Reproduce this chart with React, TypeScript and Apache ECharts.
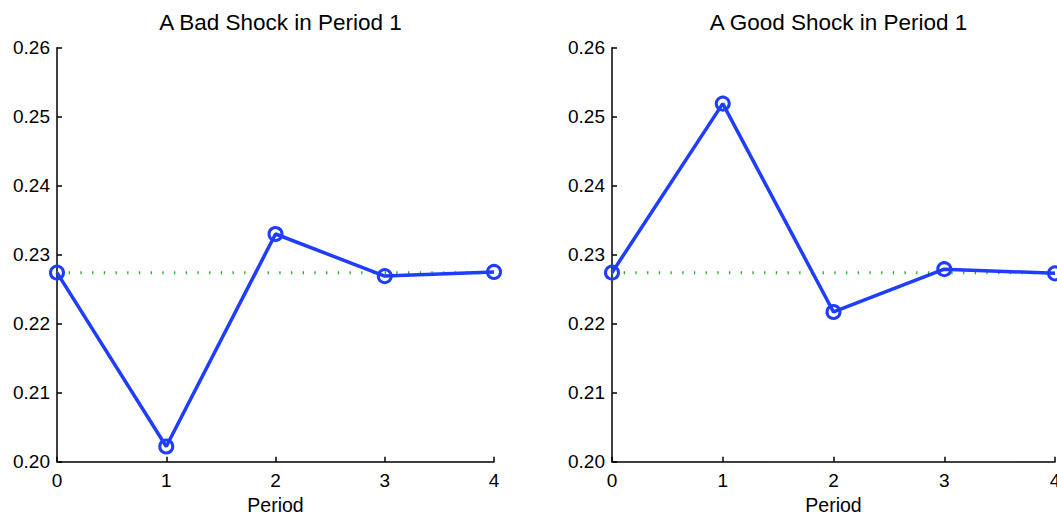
import React, { useEffect, useRef } from "react";
import * as echarts from "echarts";

const periods = [0, 1, 2, 3, 4];
const badShock = [0.2274, 0.2022, 0.2330, 0.2269, 0.2275];
const goodShock = [0.2274, 0.2519, 0.2217, 0.2279, 0.2273];
const steadyState = [0.2274, 0.2274, 0.2274, 0.2274, 0.2274];
const titles = ["A Bad Shock in Period 1", "A Good Shock in Period 1"];
const xLabel = "Period";

const FONT = "Liberation Sans, Arial, Helvetica, sans-serif";
const BLUE = "#1f3dff";
const GREEN = "#1fb01f";

export default function App() {
  const ref = useRef<HTMLDivElement>(null);
  useEffect(() => {
    document.body.style.margin = "0";
    const chart = echarts.init(ref.current!, null, { renderer: "svg" });
    const pairs = (ys: number[]) => periods.map((p, i) => [p, ys[i]]);
    const grids = [
      { left: 57, width: 437, top: 47.7, bottom: 50.3, outerBoundsMode: "none", containLabel: false },
      { left: 612, width: 443, top: 47.7, bottom: 50.3, outerBoundsMode: "none", containLabel: false },
    ];
    const axisCommon = {
      axisLine: { show: true, lineStyle: { color: "#000", width: 1.5 } },
      axisTick: { show: true, inside: true, length: 5, lineStyle: { color: "#000", width: 1.5 } },
      splitLine: { show: false },
    };
    const xAxes = grids.map((_, i) => ({
      type: "value",
      gridIndex: i,
      min: 0,
      max: 4,
      interval: 1,
      name: xLabel,
      nameLocation: "middle",
      nameGap: 28,
      nameTextStyle: { color: "#000", fontFamily: FONT, fontSize: 19.5, lineHeight: 19.5 },
      axisLabel: { color: "#000", fontFamily: FONT, fontSize: 19, margin: 9 },
      ...axisCommon,
    }));
    const yAxes = grids.map((_, i) => ({
      type: "value",
      gridIndex: i,
      min: 0.2,
      max: 0.26,
      interval: 0.01,
      axisLabel: {
        color: "#000",
        fontFamily: FONT,
        fontSize: 19,
        margin: 7,
        formatter: (v: number) => v.toFixed(2),
      },
      ...axisCommon,
    }));
    const series: any[] = [];
    [badShock, goodShock].forEach((d, i) => {
      series.push({
        type: "line",
        xAxisIndex: i,
        yAxisIndex: i,
        data: pairs(steadyState),
        symbol: "none",
        lineStyle: { color: GREEN, width: 3, type: [1.3, 10.4] },
        z: 2,
      });
      series.push({
        type: "line",
        xAxisIndex: i,
        yAxisIndex: i,
        data: pairs(d),
        symbol: "circle",
        symbolSize: 13,
        itemStyle: { color: "rgba(0,0,0,0)", borderColor: BLUE, borderWidth: 3 },
        lineStyle: { color: BLUE, width: 3.5 },
        z: 3,
      });
    });
    chart.setOption({
      animation: false,
      backgroundColor: "#fff",
      title: titles.map((t, i) => ({
        text: t,
        left: (grids[i].left as number) + grids[i].width / 2,
        textAlign: "center",
        top: 6,
        textStyle: { color: "#000", fontFamily: FONT, fontSize: 22.5, fontWeight: "normal" },
      })),
      grid: grids,
      xAxis: xAxes,
      yAxis: yAxes,
      series,
    });
    return () => chart.dispose();
  }, []);
  return <div ref={ref} style={{ position: "absolute", left: 0, top: 0, width: 1057, height: 512 }} />;
}
